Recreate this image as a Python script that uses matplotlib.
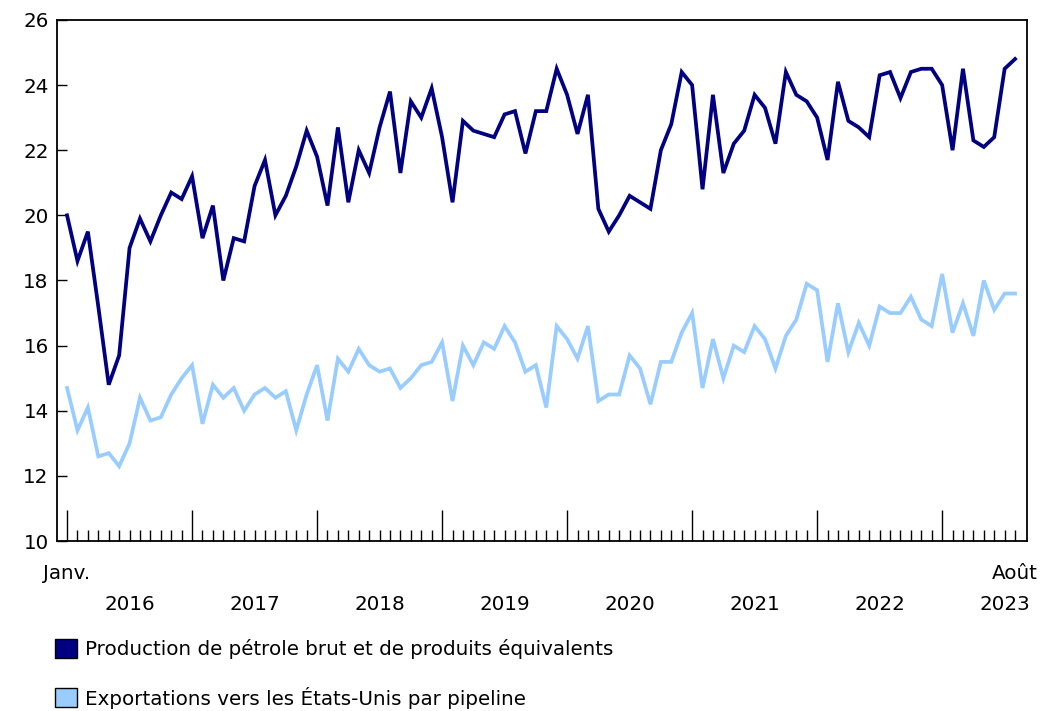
import matplotlib
matplotlib.use("Agg")
import matplotlib.pyplot as plt
from matplotlib.patches import Patch
from matplotlib.ticker import FixedLocator, NullFormatter

# monthly values, Jan 2016 .. Aug 2023
production = [
    20.0, 18.6, 19.5, 17.2, 14.8, 15.7, 19.0, 19.9, 19.2, 20.0, 20.7, 20.5,   # 2016
    21.2, 19.3, 20.3, 18.0, 19.3, 19.2, 20.9, 21.7, 20.0, 20.6, 21.5, 22.6,   # 2017
    21.8, 20.3, 22.7, 20.4, 22.0, 21.3, 22.7, 23.8, 21.3, 23.5, 23.0, 23.9,   # 2018
    22.4, 20.4, 22.9, 22.6, 22.5, 22.4, 23.1, 23.2, 21.9, 23.2, 23.2, 24.5,   # 2019
    23.7, 22.5, 23.7, 20.2, 19.5, 20.0, 20.6, 20.4, 20.2, 22.0, 22.8, 24.4,   # 2020
    24.0, 20.8, 23.7, 21.3, 22.2, 22.6, 23.7, 23.3, 22.2, 24.4, 23.7, 23.5,   # 2021
    23.0, 21.7, 24.1, 22.9, 22.7, 22.4, 24.3, 24.4, 23.6, 24.4, 24.5, 24.5,   # 2022
    24.0, 22.0, 24.5, 22.3, 22.1, 22.4, 24.5, 24.8,                           # 2023
]
exports = [
    14.7, 13.4, 14.1, 12.6, 12.7, 12.3, 13.0, 14.4, 13.7, 13.8, 14.5, 15.0,
    15.4, 13.6, 14.8, 14.4, 14.7, 14.0, 14.5, 14.7, 14.4, 14.6, 13.4, 14.5,
    15.4, 13.7, 15.6, 15.2, 15.9, 15.4, 15.2, 15.3, 14.7, 15.0, 15.4, 15.5,
    16.1, 14.3, 16.0, 15.4, 16.1, 15.9, 16.6, 16.1, 15.2, 15.4, 14.1, 16.6,
    16.2, 15.6, 16.6, 14.3, 14.5, 14.5, 15.7, 15.3, 14.2, 15.5, 15.5, 16.4,
    17.0, 14.7, 16.2, 15.0, 16.0, 15.8, 16.6, 16.2, 15.3, 16.3, 16.8, 17.9,
    17.7, 15.5, 17.3, 15.8, 16.7, 16.0, 17.2, 17.0, 17.0, 17.5, 16.8, 16.6,
    18.2, 16.4, 17.3, 16.3, 18.0, 17.1, 17.6, 17.6,
]
years = ["2016", "2017", "2018", "2019", "2020", "2021", "2022", "2023"]
labels = ["Production de pétrole brut et de produits équivalents",
          "Exportations vers les États-Unis par pipeline"]
DARK, LIGHT = "#000080", "#99ccff"

plt.rcParams["font.family"] = ["DejaVu Sans"]
FS = 14.3

fig = plt.figure(figsize=(10.43, 7.11), dpi=100)
ax = fig.add_axes([0.0547, 0.239, 0.93, 0.733])

n = len(production)
x = list(range(n))
ax.plot(x, production, color=DARK, lw=2.7, solid_joinstyle="miter")
ax.plot(x, exports, color=LIGHT, lw=2.7, solid_joinstyle="miter")

ax.set_xlim(-0.96, n - 1 + 1.15)
ax.set_ylim(10, 26)
ax.set_yticks(range(10, 27, 2))
ax.tick_params(axis="y", direction="in", length=7, width=1, labelsize=FS, pad=6)

ax.xaxis.set_major_locator(FixedLocator(list(range(0, n, 12))))
ax.xaxis.set_minor_locator(FixedLocator([i for i in range(n) if i % 12]))
ax.xaxis.set_major_formatter(NullFormatter())
ax.tick_params(axis="x", which="major", direction="in", length=22, width=1)
ax.tick_params(axis="x", which="minor", direction="in", length=8, width=1)
for s in ax.spines.values():
    s.set_linewidth(1.3)

# month / year labels under the axis
tr = ax.get_xaxis_transform()
ax.text(0, -0.062, "Janv.", transform=tr, ha="center", va="center", fontsize=FS)
ax.text(n - 1, -0.062, "Août", transform=tr, ha="center", va="center", fontsize=FS)
for k, yr in enumerate(years):
    xp = min(12 * k + 6, n - 1)
    ax.text(xp, -0.121, yr, transform=tr, ha="center", va="center", fontsize=FS)

handles = [Patch(facecolor=DARK, edgecolor="black", lw=1),
           Patch(facecolor=LIGHT, edgecolor="black", lw=1)]
fig.legend(handles, labels, loc="upper left", bbox_to_anchor=(0.045, 0.113),
           frameon=False, fontsize=FS, handlelength=1.1, handleheight=1.1,
           handletextpad=0.4, labelspacing=1.4, borderaxespad=0)

fig.savefig("out.png", dpi=100)
